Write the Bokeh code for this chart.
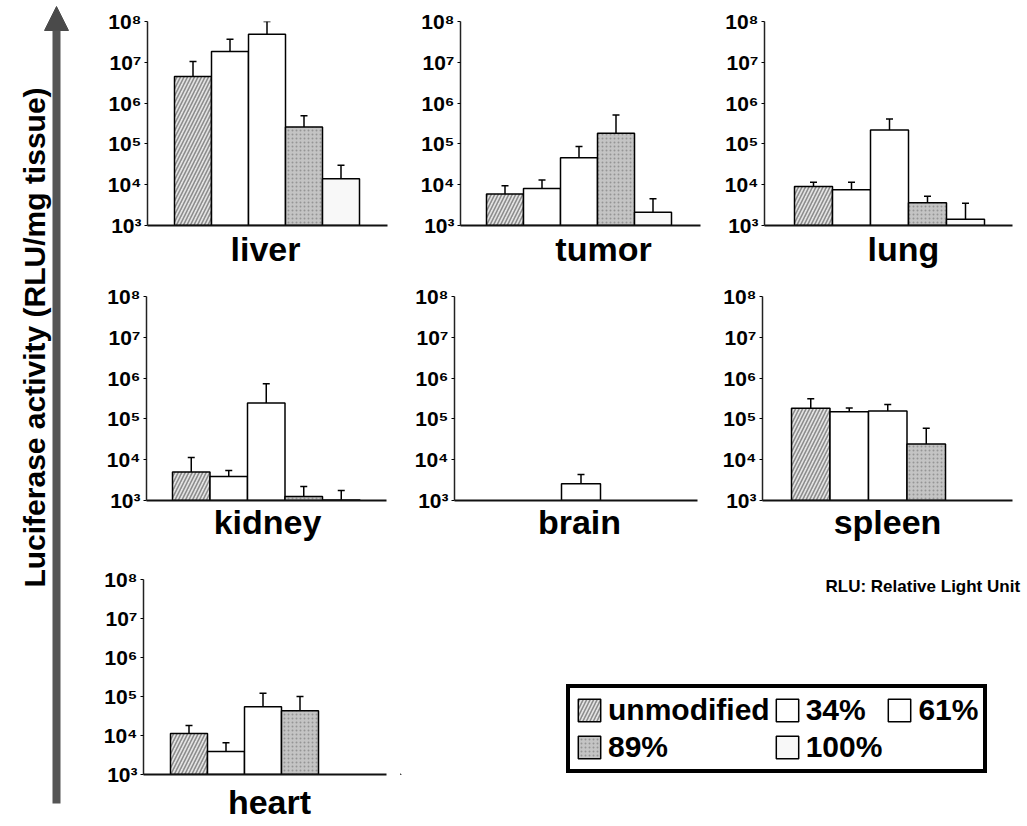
import math
import numpy as np
from bokeh.plotting import figure
from bokeh.layouts import row, column
from bokeh.models import (Range1d, FixedTicker, CustomJSTickFormatter, ColumnDataSource,
                          Whisker, TeeHead, Legend, LegendItem, Arrow, NormalHead, Title)
from bokeh.core.properties import value
from bokeh.embed import file_html
from bokeh.resources import INLINE

# ---------------- data ----------------
series = ["unmodified", "34%", "61%", "89%", "100%"]
nan = float("nan")

liver = [4.5e6, 1.83e7, 4.9e7, 2.6e5, 1.4e4]
liver_err = [1.05e7, 3.65e7, 1.0e8, 4.9e5, 3.0e4]
tumor = [5.9e3, 8.1e3, 4.6e4, 1.83e5, 2.1e3]
tumor_err = [9.4e3, 1.3e4, 8.6e4, 5.1e5, 4.5e3]
lung = [9.0e3, 7.5e3, 2.2e5, 3.6e3, 1.43e3]
lung_err = [1.15e4, 1.15e4, 4.1e5, 5.2e3, 3.5e3]
kidney = [5.0e3, 3.9e3, 2.45e5, 1.25e3, 1.03e3]
kidney_err = [1.13e4, 5.4e3, 7.3e5, 2.2e3, 1.75e3]
brain = [nan, nan, 2.57e3, nan, nan]
brain_err = [nan, nan, 4.35e3, nan, nan]
spleen = [1.83e5, 1.49e5, 1.57e5, 2.43e4, nan]
spleen_err = [3.1e5, 1.86e5, 2.25e5, 5.9e4, nan]
heart = [1.13e4, 3.9e3, 5.5e4, 4.3e4, nan]
heart_err = [1.8e4, 6.5e3, 1.21e5, 9.95e4, nan]

y_ticks = [1e3, 1e4, 1e5, 1e6, 1e7, 1e8]
y_tick_labels = ["10³", "10⁴", "10⁵", "10⁶", "10⁷", "10⁸"]
y_label = "Luciferase activity (RLU/mg tissue)"
note = "RLU: Relative Light Unit"

# ---------------- styles ----------------
FONT = "Liberation Sans"
LABEL_PX = 34
# approximate advance widths (em) of the bold sans face, used to left-align centred labels
ADV = {'a': .556, 'b': .611, 'd': .611, 'e': .556, 'g': .611, 'h': .611, 'i': .278,
       'k': .556, 'l': .278, 'm': .889, 'n': .611, 'o': .611, 'p': .611, 'r': .389,
       's': .556, 't': .333, 'u': .611, 'v': .556, 'y': .556}

styles = {
    "unmodified": dict(fill_color="#e4e4e4", hatch_pattern="/", hatch_color="#8c8c8c",
                       hatch_scale=7, hatch_weight=1.6),
    "34%": dict(fill_color="white"),
    "61%": dict(fill_color="white"),
    "89%": dict(fill_color="#c4c4c4", hatch_pattern=".", hatch_color="#959595",
                hatch_scale=4, hatch_weight=1),
    "100%": dict(fill_color="#f8f8f8"),
}

tick_fmt = CustomJSTickFormatter(args=dict(vals=y_ticks, labels=y_tick_labels), code="""
for (let i = 0; i < vals.length; i++) {
  if (Math.abs(Math.log10(tick) - Math.log10(vals[i])) < 1e-6) return labels[i];
}
return '';
""")


def panel(name, vals, errs, width, height, bl, br, bt, bb, gap, bw, lab_cx, lab_standoff):
    frame_w = width - bl - br
    xs = 0.5 - gap / bw
    xe = xs + frame_w / bw
    p = figure(width=width, height=height, y_axis_type="log", title=None,
               x_range=Range1d(xs, xe), y_range=Range1d(1e3, 1e8),
               output_backend="svg", toolbar_location=None,
               min_border_left=bl, min_border_right=br, min_border_top=bt, min_border_bottom=bb,
               outline_line_color=None)
    p.grid.visible = False
    for i, s in enumerate(series):
        v, e = vals[i], errs[i]
        if np.isnan(v):
            continue
        src = ColumnDataSource(dict(x=[i + 1], top=[v], up=[e]))
        p.vbar(x="x", top="top", bottom=1e3, width=1.0, source=src,
               line_color="black", line_width=1.5, **styles[s])
        p.add_layout(Whisker(base="x", lower="top", upper="up", source=src, dimension="height",
                             line_width=1.5, line_color="black", lower_head=None,
                             upper_head=TeeHead(size=7, line_width=1.5, line_color="black")))
    ya = p.yaxis[0]
    ya.ticker = FixedTicker(ticks=y_ticks, minor_ticks=[])
    ya.formatter = tick_fmt
    ya.major_label_text_font = FONT
    ya.major_label_text_font_style = "bold"
    ya.major_label_text_font_size = "21px"
    ya.major_label_text_color = "black"
    ya.major_tick_out = 3
    ya.major_tick_in = 0
    ya.major_label_standoff = 3
    ya.minor_tick_line_color = None
    ya.axis_line_width = 1.5
    ya.axis_line_color = "#222222"
    xa = p.xaxis[0]
    xa.ticker = FixedTicker(ticks=[])
    xa.major_label_text_font_size = "0px"
    xa.major_tick_line_color = None
    xa.minor_tick_line_color = None
    xa.axis_line_width = 2
    xa.axis_line_color = "#111111"
    text_w = sum(ADV.get(c, .6) for c in name) * LABEL_PX
    p.add_layout(Title(text=name, align="left", offset=lab_cx - text_w / 2,
                       standoff=lab_standoff, text_font=FONT, text_font_style="bold",
                       text_font_size=f"{LABEL_PX}px", text_color="black"), "below")
    return p


p_liver = panel("liver", liver, liver_err, 310, 272, 57, 13, 21, 47, 27, 37, 118, 4)
p_tumor = panel("tumor", tumor, tumor_err, 307, 272, 60, 7, 21, 47, 26, 37, 143, 4)
p_lung = panel("lung", lung, lung_err, 320, 272, 57, 15, 21, 47, 30, 38, 139, 4)
p_kidney = panel("kidney", kidney, kidney_err, 310, 280, 56, 14, 24, 52, 26, 37.5, 121, 0)
p_brain = panel("brain", brain, brain_err, 307, 280, 54, 10, 24, 52, 29, 39, 125, 0)
p_spleen = panel("spleen", spleen, spleen_err, 320, 280, 55, 15, 24, 52, 29, 38.5, 125, 0)
p_heart = panel("heart", heart, heart_err, 310, 274, 53, 14, 27, 51, 27, 37, 126, 12)

# ---------------- legend figure ----------------
LW, LH = 627, 274
lf = figure(width=LW, height=LH, x_range=Range1d(0, LW), y_range=Range1d(0, LH), title=None,
            output_backend="svg", toolbar_location=None, min_border=0,
            x_axis_location=None, y_axis_location=None, outline_line_color=None)
lf.grid.visible = False
items = []
for s in series:
    r = lf.vbar(x=[-100], top=[-50], bottom=-100, width=1, line_color="black",
                line_width=1.5, **styles[s])
    items.append(LegendItem(label=s, renderers=[r]))
leg = Legend(items=items, location=(166, 1), orientation="horizontal", ncols=3,
             glyph_width=28, glyph_height=28, label_text_font=FONT,
             label_text_font_style="bold", label_text_font_size="30px",
             label_text_color="black",
             label_standoff=5, spacing=3, padding=5, margin=0,
             border_line_width=4, border_line_color="black", border_line_alpha=1.0,
             background_fill_color="white", background_fill_alpha=1.0)
lf.add_layout(leg, "center")
lf.text(x=[425], y=[264], text=[note], text_font=value(FONT), text_font_style="bold",
        text_font_size="17px", text_align="left", text_baseline="alphabetic",
        text_color="black")

# ---------------- arrow + y label ----------------
af = figure(width=90, height=826, x_range=Range1d(0, 90), y_range=Range1d(826, 0), title=None,
            output_backend="svg", toolbar_location=None, min_border=0,
            x_axis_location=None, y_axis_location=None, outline_line_color=None)
af.grid.visible = False
af.add_layout(Arrow(end=NormalHead(size=24, fill_color="#4a4a4a", line_color="#4a4a4a"),
                    x_start=56, y_start=803, x_end=56, y_end=6,
                    line_width=8, line_color="#555555"))
af.text(x=[34], y=[337], text=[y_label], angle=math.pi / 2,
        text_font=value(FONT), text_font_style="bold", text_font_size="30px",
        text_align="center", text_baseline="middle", text_color="black")

layout = row(af, column(row(p_liver, p_tumor, p_lung),
                        row(p_kidney, p_brain, p_spleen),
                        row(p_heart, lf)))

with open("out.html", "w") as f:
    f.write(file_html(layout, INLINE))
